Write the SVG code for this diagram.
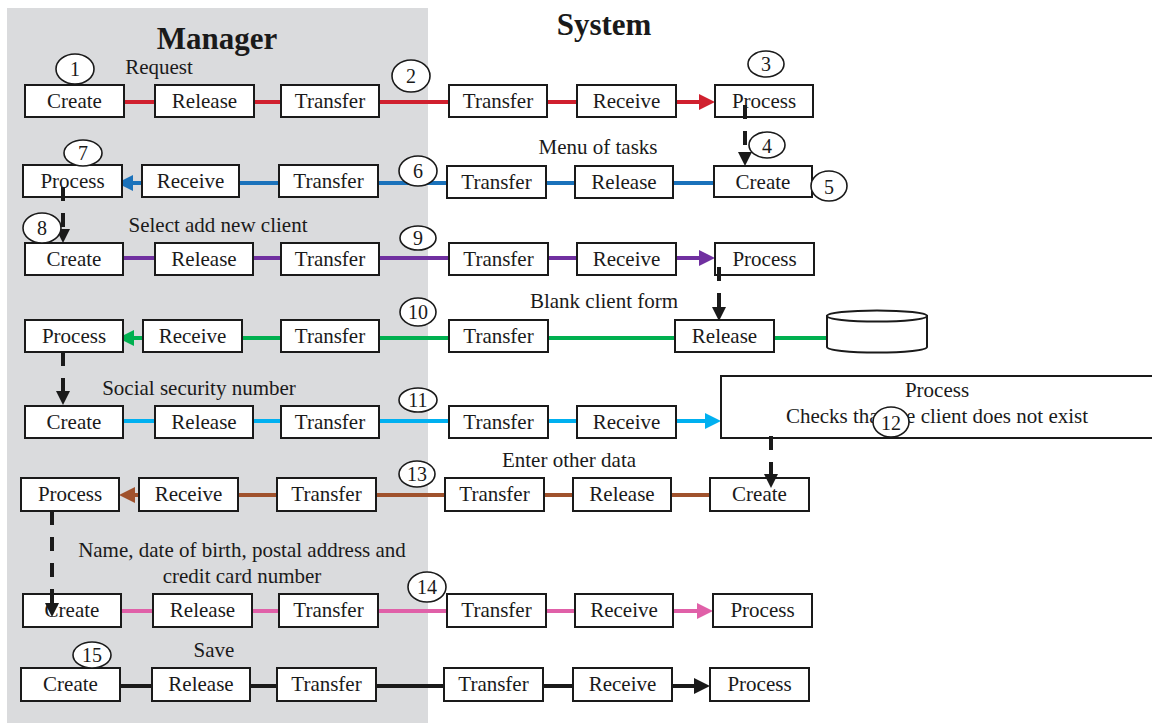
<svg xmlns="http://www.w3.org/2000/svg" width="1152" height="723" viewBox="0 0 1152 723">
<style>
.box{fill:#fff;stroke:#1a1a1a;stroke-width:2}
.lbl{font-family:"Liberation Serif","Times New Roman",serif;font-size:21px;fill:#1a1a1a;text-anchor:middle}
.ann{font-family:"Liberation Serif","Times New Roman",serif;font-size:21px;fill:#1a1a1a;text-anchor:middle}
.hdr{font-family:"Liberation Serif","Times New Roman",serif;font-size:31px;font-weight:bold;fill:#1a1a1a;text-anchor:middle}
.num{fill:#fff;stroke:#1a1a1a;stroke-width:1.6}
.numt{font-family:"Liberation Serif","Times New Roman",serif;font-size:20px;fill:#1a1a1a;text-anchor:middle}
.ln{stroke-width:4;fill:none}
.dash{stroke:#1a1a1a;stroke-width:4;stroke-dasharray:14 12;fill:none}
</style>
<defs>
<marker id="aRed" viewBox="0 0 16 16" refX="0" refY="8" markerWidth="16" markerHeight="16" markerUnits="userSpaceOnUse" orient="auto"><path d="M0,0 L16,8 L0,16 z" fill="#d0202e"/></marker>
<marker id="aBlue" viewBox="0 0 16 16" refX="0" refY="8" markerWidth="16" markerHeight="16" markerUnits="userSpaceOnUse" orient="auto"><path d="M0,0 L16,8 L0,16 z" fill="#1a72bb"/></marker>
<marker id="aPurple" viewBox="0 0 16 16" refX="0" refY="8" markerWidth="16" markerHeight="16" markerUnits="userSpaceOnUse" orient="auto"><path d="M0,0 L16,8 L0,16 z" fill="#7030a0"/></marker>
<marker id="aGreen" viewBox="0 0 16 16" refX="0" refY="8" markerWidth="16" markerHeight="16" markerUnits="userSpaceOnUse" orient="auto"><path d="M0,0 L16,8 L0,16 z" fill="#00b050"/></marker>
<marker id="aCyan" viewBox="0 0 16 16" refX="0" refY="8" markerWidth="16" markerHeight="16" markerUnits="userSpaceOnUse" orient="auto"><path d="M0,0 L16,8 L0,16 z" fill="#00b0f0"/></marker>
<marker id="aBrown" viewBox="0 0 16 16" refX="0" refY="8" markerWidth="16" markerHeight="16" markerUnits="userSpaceOnUse" orient="auto"><path d="M0,0 L16,8 L0,16 z" fill="#a0522d"/></marker>
<marker id="aPink" viewBox="0 0 16 16" refX="0" refY="8" markerWidth="16" markerHeight="16" markerUnits="userSpaceOnUse" orient="auto"><path d="M0,0 L16,8 L0,16 z" fill="#e060a8"/></marker>
<marker id="aBlack" viewBox="0 0 16 16" refX="0" refY="8" markerWidth="16" markerHeight="16" markerUnits="userSpaceOnUse" orient="auto"><path d="M0,0 L16,8 L0,16 z" fill="#1a1a1a"/></marker>
<marker id="aDash" viewBox="0 0 14 14" refX="0" refY="7" markerWidth="14" markerHeight="14" markerUnits="userSpaceOnUse" orient="auto"><path d="M0,0 L14,7 L0,14 z" fill="#1a1a1a"/></marker>
</defs>

<rect id="manager-lane" x="7" y="8" width="421" height="715" fill="#dadbdd"/>
<text class="hdr" x="217" y="49">Manager</text>
<text class="hdr" x="604" y="35">System</text>

<g id="connectors">
  <!-- row 1 red -->
  <g stroke="#d0202e" class="ln">
    <line x1="124" y1="102" x2="155" y2="102"/>
    <line x1="254" y1="102" x2="281" y2="102"/>
    <line x1="379" y1="102" x2="449" y2="102"/>
    <line x1="547" y1="102" x2="577" y2="102"/>
    <line x1="676" y1="102" x2="699" y2="102" marker-end="url(#aRed)"/>
  </g>
  <!-- row 2 blue -->
  <g stroke="#1a72bb" class="ln">
    <line x1="714" y1="183" x2="673" y2="183"/>
    <line x1="575" y1="183" x2="546" y2="183"/>
    <line x1="447" y1="183" x2="378" y2="183"/>
    <line x1="279" y1="183" x2="239" y2="183"/>
    <line x1="142" y1="183" x2="133" y2="183" marker-end="url(#aBlue)"/>
  </g>
  <!-- row 3 purple -->
  <g stroke="#7030a0" class="ln">
    <line x1="115" y1="258" x2="155" y2="258"/>
    <line x1="253" y1="258" x2="281" y2="258"/>
    <line x1="379" y1="258" x2="449" y2="258"/>
    <line x1="548" y1="258" x2="577" y2="258"/>
    <line x1="676" y1="258" x2="699" y2="258" marker-end="url(#aPurple)"/>
  </g>
  <!-- row 4 green -->
  <g stroke="#00b050" class="ln">
    <line x1="827" y1="338" x2="774" y2="338"/>
    <line x1="675" y1="338" x2="548" y2="338"/>
    <line x1="449" y1="338" x2="379" y2="338"/>
    <line x1="281" y1="338" x2="242" y2="338"/>
    <line x1="143" y1="338" x2="134" y2="338" marker-end="url(#aGreen)"/>
  </g>
  <!-- row 5 cyan -->
  <g stroke="#00b0f0" class="ln">
    <line x1="123" y1="421" x2="155" y2="421"/>
    <line x1="253" y1="421" x2="281" y2="421"/>
    <line x1="379" y1="421" x2="449" y2="421"/>
    <line x1="548" y1="421" x2="577" y2="421"/>
    <line x1="676" y1="421" x2="705" y2="421" marker-end="url(#aCyan)"/>
  </g>
  <!-- row 6 brown -->
  <g stroke="#a0522d" class="ln">
    <line x1="710" y1="495" x2="671" y2="495"/>
    <line x1="573" y1="495" x2="544" y2="495"/>
    <line x1="445" y1="495" x2="376" y2="495"/>
    <line x1="277" y1="495" x2="238" y2="495"/>
    <line x1="139" y1="495" x2="135" y2="495" marker-end="url(#aBrown)"/>
  </g>
  <!-- row 7 pink -->
  <g stroke="#e060a8" class="ln">
    <line x1="121" y1="611" x2="153" y2="611"/>
    <line x1="252" y1="611" x2="279" y2="611"/>
    <line x1="378" y1="611" x2="447" y2="611"/>
    <line x1="546" y1="611" x2="575" y2="611"/>
    <line x1="673" y1="611" x2="697" y2="611" marker-end="url(#aPink)"/>
  </g>
  <!-- row 8 black -->
  <g stroke="#1a1a1a" class="ln">
    <line x1="120" y1="686" x2="152" y2="686"/>
    <line x1="250" y1="686" x2="277" y2="686"/>
    <line x1="376" y1="686" x2="444" y2="686"/>
    <line x1="543" y1="686" x2="573" y2="686"/>
    <line x1="672" y1="686" x2="694" y2="686" marker-end="url(#aBlack)"/>
  </g>
</g>

<!-- Row 1 -->
<g id="r1-create"><rect class="box" x="25" y="85" width="99" height="32"/><text class="lbl" x="74.5" y="108">Create</text></g>
<g id="r1-release"><rect class="box" x="155" y="85" width="99" height="32"/><text class="lbl" x="204.5" y="108">Release</text></g>
<g id="r1-transfer-m"><rect class="box" x="281" y="85" width="98" height="32"/><text class="lbl" x="330" y="108">Transfer</text></g>
<g id="r1-transfer-s"><rect class="box" x="449" y="85" width="98" height="32"/><text class="lbl" x="498" y="108">Transfer</text></g>
<g id="r1-receive"><rect class="box" x="577" y="85" width="99" height="32"/><text class="lbl" x="626.5" y="108">Receive</text></g>
<g id="r1-process"><rect class="box" x="715" y="85" width="98" height="32"/><text class="lbl" x="764" y="108">Process</text></g>

<!-- Row 2 -->
<g id="r2-process"><rect class="box" x="23" y="165" width="99" height="32"/><text class="lbl" x="72.5" y="188">Process</text></g>
<g id="r2-receive"><rect class="box" x="142" y="165" width="97" height="32"/><text class="lbl" x="190.5" y="188">Receive</text></g>
<g id="r2-transfer-m"><rect class="box" x="279" y="165" width="99" height="32"/><text class="lbl" x="328.5" y="188">Transfer</text></g>
<g id="r2-transfer-s"><rect class="box" x="447" y="166" width="99" height="32"/><text class="lbl" x="496.5" y="189">Transfer</text></g>
<g id="r2-release"><rect class="box" x="575" y="166" width="98" height="32"/><text class="lbl" x="624" y="189">Release</text></g>
<g id="r2-create"><rect class="box" x="714" y="166" width="98" height="31"/><text class="lbl" x="763" y="189">Create</text></g>

<!-- Row 3 -->
<g id="r3-create"><rect class="box" x="25" y="243" width="98" height="32"/><text class="lbl" x="74" y="266">Create</text></g>
<g id="r3-release"><rect class="box" x="155" y="243" width="98" height="32"/><text class="lbl" x="204" y="266">Release</text></g>
<g id="r3-transfer-m"><rect class="box" x="281" y="243" width="98" height="32"/><text class="lbl" x="330" y="266">Transfer</text></g>
<g id="r3-transfer-s"><rect class="box" x="449" y="243" width="99" height="32"/><text class="lbl" x="498.5" y="266">Transfer</text></g>
<g id="r3-receive"><rect class="box" x="577" y="243" width="99" height="32"/><text class="lbl" x="626.5" y="266">Receive</text></g>
<g id="r3-process"><rect class="box" x="715" y="243" width="99" height="32"/><text class="lbl" x="764.5" y="266">Process</text></g>

<!-- Row 4 -->
<g id="r4-process"><rect class="box" x="25" y="320" width="98" height="32"/><text class="lbl" x="74" y="343">Process</text></g>
<g id="r4-receive"><rect class="box" x="143" y="320" width="99" height="32"/><text class="lbl" x="192.5" y="343">Receive</text></g>
<g id="r4-transfer-m"><rect class="box" x="281" y="320" width="98" height="32"/><text class="lbl" x="330" y="343">Transfer</text></g>
<g id="r4-transfer-s"><rect class="box" x="449" y="320" width="99" height="32"/><text class="lbl" x="498.5" y="343">Transfer</text></g>
<g id="r4-release"><rect class="box" x="675" y="320" width="99" height="32"/><text class="lbl" x="724.5" y="343">Release</text></g>
<g id="r4-database">
  <path d="M827,316 L827,347 A50,5.5 0 0 0 927,347 L927,316 Z" fill="#fff" stroke="#1a1a1a" stroke-width="2"/>
  <ellipse cx="877" cy="316" rx="50" ry="5.5" fill="#fff" stroke="#1a1a1a" stroke-width="2"/>
</g>

<!-- Row 5 -->
<g id="r5-create"><rect class="box" x="25" y="406" width="98" height="32"/><text class="lbl" x="74" y="429">Create</text></g>
<g id="r5-release"><rect class="box" x="155" y="406" width="98" height="32"/><text class="lbl" x="204" y="429">Release</text></g>
<g id="r5-transfer-m"><rect class="box" x="281" y="406" width="98" height="32"/><text class="lbl" x="330" y="429">Transfer</text></g>
<g id="r5-transfer-s"><rect class="box" x="449" y="406" width="99" height="32"/><text class="lbl" x="498.5" y="429">Transfer</text></g>
<g id="r5-receive"><rect class="box" x="577" y="406" width="99" height="32"/><text class="lbl" x="626.5" y="429">Receive</text></g>
<g id="r5-process">
  <rect class="box" x="721" y="376" width="432" height="62"/>
  <text class="lbl" x="937" y="397">Process</text>
  <text class="lbl" x="937" y="423">Checks that the client does not exist</text>
</g>

<!-- Row 6 -->
<g id="r6-process"><rect class="box" x="21" y="478" width="98" height="33"/><text class="lbl" x="70" y="501">Process</text></g>
<g id="r6-receive"><rect class="box" x="139" y="478" width="99" height="33"/><text class="lbl" x="188.5" y="501">Receive</text></g>
<g id="r6-transfer-m"><rect class="box" x="277" y="478" width="99" height="33"/><text class="lbl" x="326.5" y="501">Transfer</text></g>
<g id="r6-transfer-s"><rect class="box" x="445" y="478" width="99" height="33"/><text class="lbl" x="494.5" y="501">Transfer</text></g>
<g id="r6-release"><rect class="box" x="573" y="478" width="98" height="33"/><text class="lbl" x="622" y="501">Release</text></g>
<g id="r6-create"><rect class="box" x="710" y="478" width="99" height="33"/><text class="lbl" x="759.5" y="501">Create</text></g>

<!-- Row 7 -->
<g id="r7-create"><rect class="box" x="23" y="594" width="98" height="33"/><text class="lbl" x="72" y="617">Create</text></g>
<g id="r7-release"><rect class="box" x="153" y="594" width="99" height="33"/><text class="lbl" x="202.5" y="617">Release</text></g>
<g id="r7-transfer-m"><rect class="box" x="279" y="594" width="99" height="33"/><text class="lbl" x="328.5" y="617">Transfer</text></g>
<g id="r7-transfer-s"><rect class="box" x="447" y="594" width="99" height="33"/><text class="lbl" x="496.5" y="617">Transfer</text></g>
<g id="r7-receive"><rect class="box" x="575" y="594" width="98" height="33"/><text class="lbl" x="624" y="617">Receive</text></g>
<g id="r7-process"><rect class="box" x="713" y="594" width="99" height="33"/><text class="lbl" x="762.5" y="617">Process</text></g>

<!-- Row 8 -->
<g id="r8-create"><rect class="box" x="21" y="668" width="99" height="33"/><text class="lbl" x="70.5" y="691">Create</text></g>
<g id="r8-release"><rect class="box" x="152" y="668" width="98" height="33"/><text class="lbl" x="201" y="691">Release</text></g>
<g id="r8-transfer-m"><rect class="box" x="277" y="668" width="99" height="33"/><text class="lbl" x="326.5" y="691">Transfer</text></g>
<g id="r8-transfer-s"><rect class="box" x="444" y="668" width="99" height="33"/><text class="lbl" x="493.5" y="691">Transfer</text></g>
<g id="r8-receive"><rect class="box" x="573" y="668" width="99" height="33"/><text class="lbl" x="622.5" y="691">Receive</text></g>
<g id="r8-process"><rect class="box" x="710" y="668" width="99" height="33"/><text class="lbl" x="759.5" y="691">Process</text></g>

<g id="dashed-connectors">
  <line class="dash" x1="745" y1="105" x2="745" y2="152" marker-end="url(#aDash)"/>
  <line class="dash" x1="63" y1="187" x2="63" y2="229" marker-end="url(#aDash)"/>
  <line class="dash" x1="719" y1="267" x2="719" y2="307" marker-end="url(#aDash)"/>
  <line class="dash" x1="63" y1="352" x2="63" y2="391" marker-end="url(#aDash)"/>
  <line class="dash" x1="771" y1="436" x2="771" y2="474" marker-end="url(#aDash)"/>
  <line class="dash" x1="52" y1="511" x2="52" y2="603" marker-end="url(#aDash)"/>
</g>

<g id="annotations">
  <text class="ann" x="159" y="74">Request</text>
  <text class="ann" x="598" y="154">Menu of tasks</text>
  <text class="ann" x="218" y="232">Select add new client</text>
  <text class="ann" x="604" y="308">Blank client form</text>
  <text class="ann" x="199" y="395">Social security number</text>
  <text class="ann" x="569" y="467">Enter other data</text>
  <text class="ann" x="242" y="557">Name, date of birth, postal address and</text>
  <text class="ann" x="242" y="583">credit card number</text>
  <text class="ann" x="214" y="657">Save</text>
</g>

<g id="step-numbers">
  <g id="n1"><ellipse class="num" cx="75" cy="69" rx="19" ry="15"/><text class="numt" x="75" y="76">1</text></g>
  <g id="n2"><ellipse class="num" cx="411" cy="76" rx="19" ry="16"/><text class="numt" x="411" y="83">2</text></g>
  <g id="n3"><ellipse class="num" cx="766" cy="64" rx="18" ry="13"/><text class="numt" x="766" y="71">3</text></g>
  <g id="n4"><ellipse class="num" cx="767" cy="145" rx="18" ry="13"/><text class="numt" x="767" y="153">4</text></g>
  <g id="n5"><ellipse class="num" cx="829" cy="186" rx="18" ry="15"/><text class="numt" x="829" y="194">5</text></g>
  <g id="n6"><ellipse class="num" cx="418" cy="171" rx="19" ry="15"/><text class="numt" x="418" y="178">6</text></g>
  <g id="n7"><ellipse class="num" cx="83" cy="153" rx="19" ry="13"/><text class="numt" x="83" y="160">7</text></g>
  <g id="n8"><ellipse class="num" cx="42" cy="228" rx="19" ry="15"/><text class="numt" x="42" y="235">8</text></g>
  <g id="n9"><ellipse class="num" cx="418" cy="238" rx="18" ry="12"/><text class="numt" x="418" y="245">9</text></g>
  <g id="n10"><ellipse class="num" cx="418" cy="312" rx="18" ry="14"/><text class="numt" x="418" y="319">10</text></g>
  <g id="n11"><ellipse class="num" cx="418" cy="400" rx="19" ry="12"/><text class="numt" x="418" y="407">11</text></g>
  <g id="n12"><ellipse class="num" cx="891" cy="422" rx="18" ry="15"/><text class="numt" x="891" y="430">12</text></g>
  <g id="n13"><ellipse class="num" cx="417" cy="474" rx="18" ry="13"/><text class="numt" x="417" y="481">13</text></g>
  <g id="n14"><ellipse class="num" cx="427" cy="587" rx="19" ry="15"/><text class="numt" x="427" y="594">14</text></g>
  <g id="n15"><ellipse class="num" cx="92" cy="655" rx="19" ry="13"/><text class="numt" x="92" y="662">15</text></g>
</g>
</svg>
